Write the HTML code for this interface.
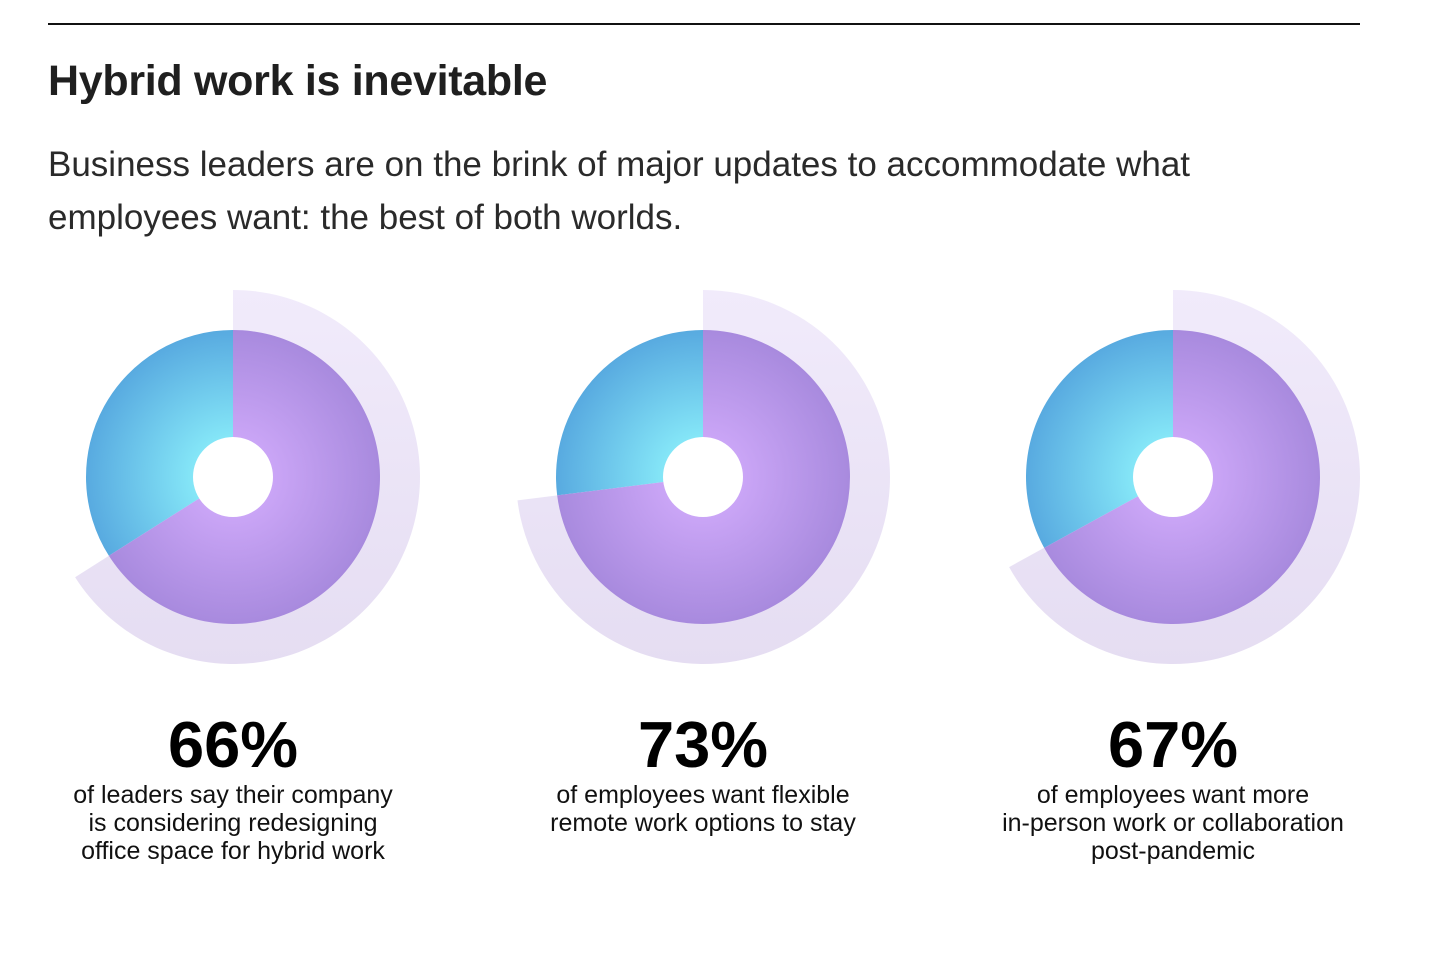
<!DOCTYPE html>
<html><head><meta charset="utf-8">
<style>
body{margin:0;width:1432px;height:954px;background:#fff;font-family:"Liberation Sans",sans-serif;color:#222;position:relative;overflow:hidden}
.rule{position:absolute;left:48px;top:23px;width:1312px;height:2px;background:#111}
h1{position:absolute;left:48px;top:57px;margin:0;font-size:43px;font-weight:bold;color:#1f1f1f;letter-spacing:-0.3px}
.sub{position:absolute;left:48px;top:138px;margin:0;font-size:35px;line-height:53px;color:#2a2a2a;width:1380px;white-space:nowrap}
.stat{position:absolute;top:708px;width:440px;text-align:center}
.num{font-size:65px;font-weight:bold;color:#000;line-height:74px}
.desc{font-size:25px;line-height:28px;color:#111;margin-top:-1px}
</style></head><body>
<div class="rule"></div>
<h1>Hybrid work is inevitable</h1>
<p class="sub">Business leaders are on the brink of major updates to accommodate what<br>employees want: the best of both worlds.</p>
<svg id="chart" width="1432" height="700" style="position:absolute;left:0;top:0">
<defs id="defs">
<linearGradient id="go" x1="0" y1="0" x2="0" y2="1"><stop offset="0" stop-color="#f1ebfb"/><stop offset="1" stop-color="#e5ddf2"/></linearGradient>
</defs>
</svg>
<div class="stat" style="left:13px"><div class="num">66%</div><div class="desc">of leaders say their company<br>is considering redesigning<br>office space for hybrid work</div></div>
<div class="stat" style="left:483px"><div class="num">73%</div><div class="desc">of employees want flexible<br>remote work options to stay</div></div>
<div class="stat" style="left:953px"><div class="num">67%</div><div class="desc">of employees want more<br>in-person work or collaboration<br>post-pandemic</div></div>
<script>
const categories=["leaders-redesign","employees-remote","employees-inperson"];
const values=[66,73,67];
const centersX=[233,703,1173];
const cy=477, rOuter=187, rInner=147, rHole=40;
const svg=document.getElementById('chart');
const defs=document.getElementById('defs');
const NS='http://www.w3.org/2000/svg';
function pt(cx,r,a){return [cx+r*Math.sin(a),cy-r*Math.cos(a)];}
function wedge(cx,r,a0,a1){
  const p0=pt(cx,r,a0),p1=pt(cx,r,a1),large=(a1-a0)>Math.PI?1:0;
  return `M${cx},${cy}L${p0[0]},${p0[1]}A${r},${r} 0 ${large} 1 ${p1[0]},${p1[1]}Z`;
}
function grad(id,cx,c0,c1){
  const g=document.createElementNS(NS,'radialGradient');
  g.setAttribute('id',id);g.setAttribute('gradientUnits','userSpaceOnUse');
  g.setAttribute('cx',cx);g.setAttribute('cy',cy);g.setAttribute('r',rInner);
  g.innerHTML=`<stop offset="0.25" stop-color="${c0}"/><stop offset="1" stop-color="${c1}"/>`;
  defs.appendChild(g);
}
values.forEach((v,i)=>{
  const cx=centersX[i], a=v/100*2*Math.PI;
  grad('gp'+i,cx,'#cba6f7','#a88ade');
  grad('gb'+i,cx,'#86e8f8','#58aae0');
  const o=document.createElementNS(NS,'path');
  o.setAttribute('d',wedge(cx,rOuter,0,a));o.setAttribute('fill','url(#go)');
  
  
  svg.appendChild(o);
  const b=document.createElementNS(NS,'path');
  b.setAttribute('d',wedge(cx,rInner,a,2*Math.PI));b.setAttribute('fill','url(#gb'+i+')');
  
  
  svg.appendChild(b);
  const p=document.createElementNS(NS,'path');
  p.setAttribute('d',wedge(cx,rInner,0,a));p.setAttribute('fill','url(#gp'+i+')');
  
  
  svg.appendChild(p);
  const h=document.createElementNS(NS,'circle');
  h.setAttribute('cx',cx);h.setAttribute('cy',cy);h.setAttribute('r',rHole);h.setAttribute('fill','#fff');
  
  
  svg.appendChild(h);
});
</script>
</body></html>
